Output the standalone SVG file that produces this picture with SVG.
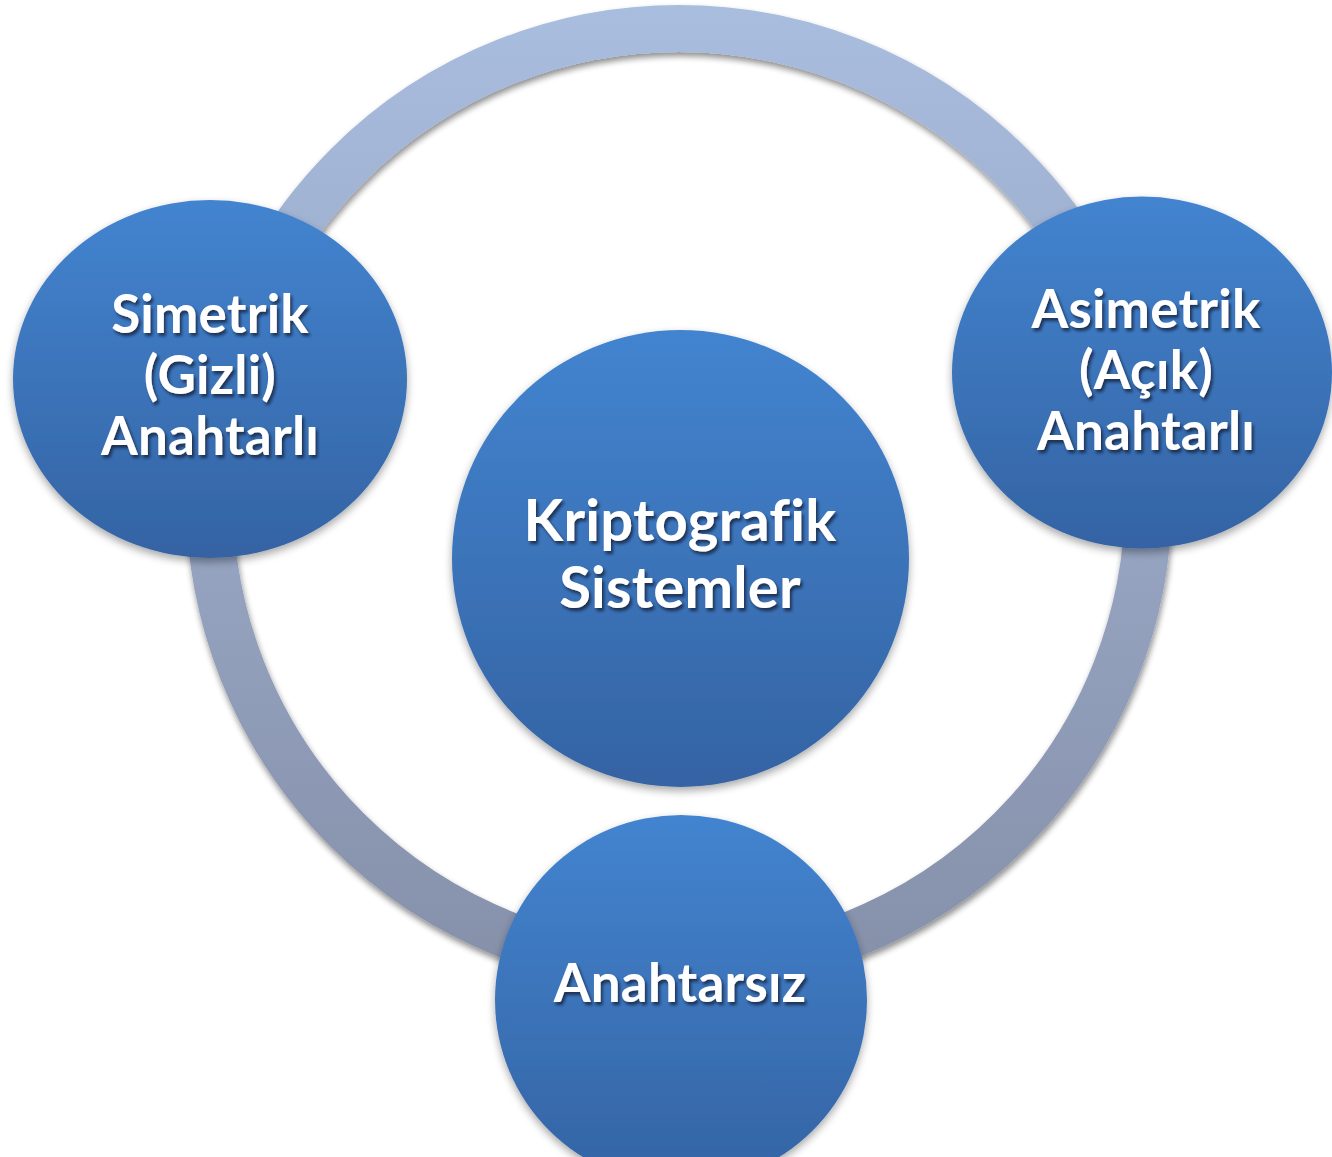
<svg xmlns="http://www.w3.org/2000/svg" width="1332" height="1157" viewBox="0 0 1332 1157">
  <defs>
    <linearGradient id="nodeFill" x1="0" y1="0" x2="0" y2="1">
      <stop offset="0" stop-color="#4384D0"/>
      <stop offset="1" stop-color="#3463A3"/>
    </linearGradient>
    <linearGradient id="ringStroke" gradientUnits="userSpaceOnUse" x1="0" y1="5" x2="0" y2="992">
      <stop offset="0" stop-color="#A9BDDF"/>
      <stop offset="1" stop-color="#858FA8"/>
    </linearGradient>
    <filter id="ringShadow" x="-10%" y="-10%" width="120%" height="120%">
      <feGaussianBlur in="SourceAlpha" stdDeviation="3"/>
      <feOffset dx="1" dy="4" result="b"/>
      <feComponentTransfer><feFuncA type="linear" slope="0.45"/></feComponentTransfer>
      <feMerge><feMergeNode/><feMergeNode in="SourceGraphic"/></feMerge>
    </filter>
    <filter id="nodeShadow" x="-10%" y="-10%" width="120%" height="125%">
      <feGaussianBlur in="SourceAlpha" stdDeviation="4"/>
      <feOffset dx="0" dy="4" result="b"/>
      <feComponentTransfer><feFuncA type="linear" slope="0.35"/></feComponentTransfer>
      <feMerge><feMergeNode/><feMergeNode in="SourceGraphic"/></feMerge>
    </filter>
    <filter id="textShadow" x="-10%" y="-20%" width="120%" height="150%">
      <feDropShadow dx="2" dy="3" stdDeviation="1.5" flood-color="#0B1A33" flood-opacity="0.75"/>
    </filter>
  </defs>
  <style>
    .node { fill: url(#nodeFill); filter: url(#nodeShadow); }
    .label { font-family: Lato, "Open Sans", "Liberation Sans", sans-serif; font-weight: 700; fill: #FFFFFF; text-anchor: middle; filter: url(#textShadow); font-variant-ligatures: none; font-feature-settings: "liga" 0, "clig" 0; letter-spacing: 0.2px; }
    .side { font-size: 53px; }
    .main { font-size: 58px; }
    .bottom { font-size: 53px; }
  </style>
  <rect width="1332" height="1157" fill="#FFFFFF"/>
  <g id="connectors">
    <circle cx="679" cy="498" r="469.5" fill="none" stroke="url(#ringStroke)" stroke-width="47" filter="url(#ringShadow)"/>
  </g>
  <g id="node-center">
    <circle class="node" cx="680.5" cy="558.5" r="228.5"/>
    <text class="label main" x="680" y="541">Kriptografik</text>
    <text class="label main" x="680" y="608">Sistemler</text>
  </g>
  <g id="node-symmetric">
    <ellipse class="node" cx="210" cy="379" rx="197" ry="179"/>
    <text class="label side" x="210" y="333">Simetrik</text>
    <text class="label side" x="210" y="394">(Gizli)</text>
    <text class="label side" x="210" y="455">Anahtarlı</text>
  </g>
  <g id="node-asymmetric">
    <ellipse class="node" cx="1142" cy="372.5" rx="190" ry="176"/>
    <text class="label side" x="1146" y="328">Asimetrik</text>
    <text class="label side" x="1146" y="389">(Açık)</text>
    <text class="label side" x="1146" y="450">Anahtarlı</text>
  </g>
  <g id="node-keyless">
    <ellipse class="node" cx="681" cy="1000" rx="186" ry="185"/>
    <text class="label bottom" x="680" y="1002">Anahtarsız</text>
  </g>
</svg>
